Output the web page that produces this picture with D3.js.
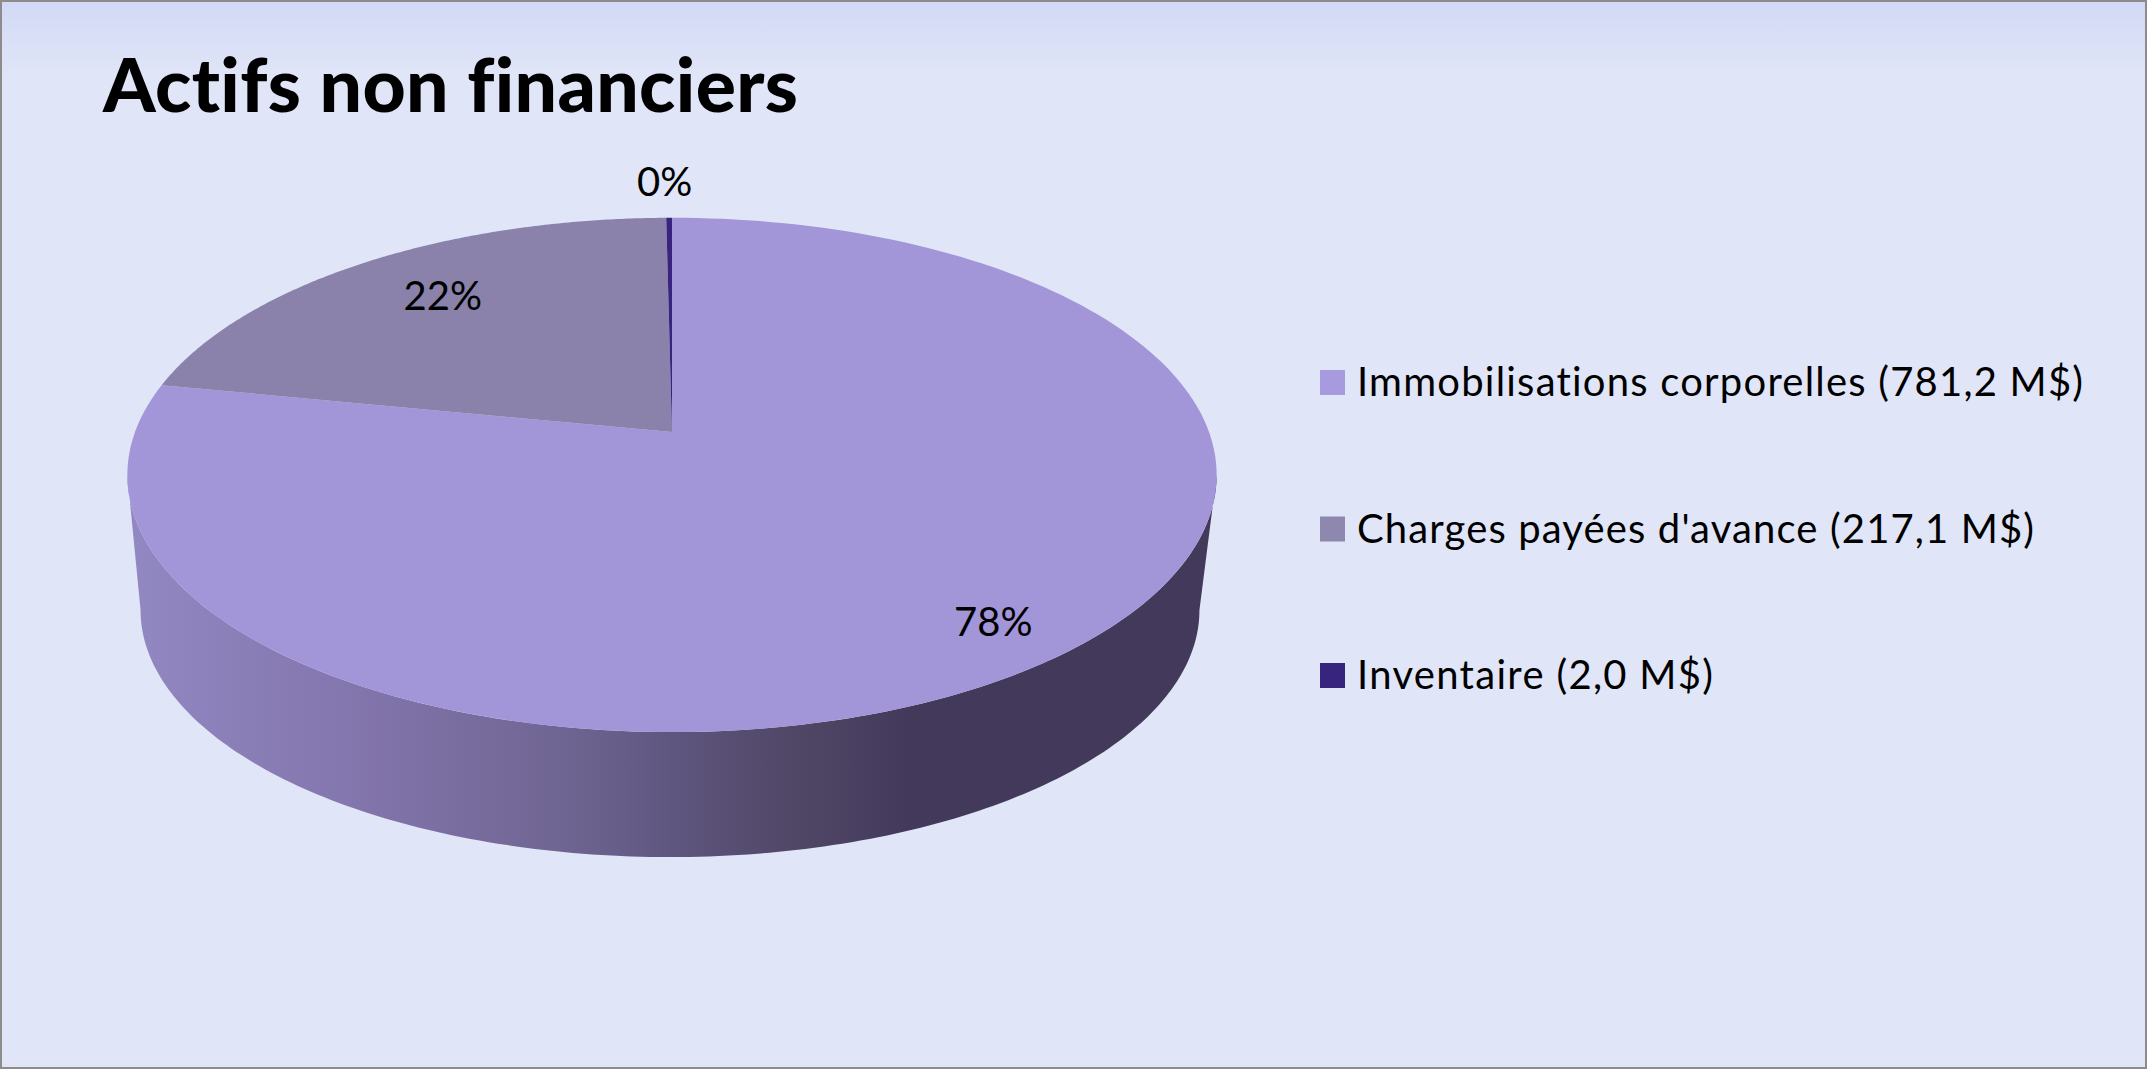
<!DOCTYPE html>
<html>
<head>
<meta charset="utf-8">
<script src="https://cdn.jsdelivr.net/npm/d3@7"></script>
<style>
  html, body { margin: 0; padding: 0; background: #e0e5f7; }
  svg { display: block; }
  text { font-family: Lato, "Open Sans", sans-serif; fill: #000; font-variant-ligatures: none; }
</style>
</head>
<body>
<div id="wrapper"></div>
<script>
const title = "Actifs non financiers";
const categories = ["Immobilisations corporelles", "Charges payées d'avance", "Inventaire"];
const values = [781.2, 217.1, 2.0];
const valueLabels = ["781,2 M$", "217,1 M$", "2,0 M$"];
const percentLabels = ["78%", "22%", "0%"];
const topColors = ["#a295d8", "#8a82aa", "#38247f"];
const legendColors = ["#a79ade", "#8e87ae", "#37247f"];

//set dimensions
const dimensions = { width: 2147, height: 1069 };

// perspective of the disc: a, b are the half axes in the plane, k the foreshortening
const topDisc = { cx: 672, cy: 432, a: 537, b: 250, k: 0.167 };
const bottomDisc = { cx: 670, cy: 569, a: 522, b: 240, k: 0.167 };

const project = (disc, angle, r = 1) => {
    const u = r * Math.sin(angle);
    const v = -r * Math.cos(angle);
    const w = 1 - disc.k * v;
    return [disc.cx + disc.a * u / w, disc.cy + disc.b * v / w];
};

const steps = 180;
const arcPoints = (disc, a0, a1) => d3.range(steps + 1)
    .map(i => project(disc, a0 + (a1 - a0) * i / steps));

const svg = d3.select("#wrapper").append("svg")
    .attr("width", dimensions.width)
    .attr("height", dimensions.height);

const defs = svg.append("defs");

const bgGradient = defs.append("linearGradient")
    .attr("id", "bg-gradient")
    .attr("x1", 0).attr("x2", 0).attr("y1", 0).attr("y2", 1);
bgGradient.selectAll("stop")
    .data([
        { offset: "0%", color: "#d2d9f5" },
        { offset: "7%", color: "#e0e5f7" },
        { offset: "100%", color: "#e0e5f7" },
    ])
    .join("stop")
    .attr("offset", d => d.offset)
    .attr("stop-color", d => d.color);

const wallGradient = defs.append("linearGradient")
    .attr("id", "wall-gradient")
    .attr("gradientUnits", "userSpaceOnUse")
    .attr("x1", 128).attr("x2", 1217).attr("y1", 0).attr("y2", 0);
wallGradient.selectAll("stop")
    .data([
        { offset: "0%", color: "#9288c2" },
        { offset: "20%", color: "#8476ae" },
        { offset: "40%", color: "#6f6592" },
        { offset: "50%", color: "#5f5680" },
        { offset: "60%", color: "#524868" },
        { offset: "72%", color: "#433a5b" },
        { offset: "100%", color: "#433a5b" },
    ])
    .join("stop")
    .attr("offset", d => d.offset)
    .attr("stop-color", d => d.color);

// background
svg.append("rect")
    .attr("x", 1).attr("y", 1)
    .attr("width", dimensions.width - 2)
    .attr("height", dimensions.height - 2)
    .attr("fill", "url(#bg-gradient)")
    .attr("stroke", "#8c8c8c")
    .attr("stroke-width", 2);

svg.append("text")
    .attr("x", 103)
    .attr("y", 112)
    .attr("font-size", 75)
    .attr("font-weight", 900)
    .attr("textLength", 695)
    .attr("lengthAdjust", "spacing")
    .text(title);

// slices
const pie = d3.pie().sort(null);
const arcs = pie(values);

const line = d3.line();

// side wall, runs between the two points where the rim turns away
const turnRight = Math.acos(-topDisc.k);
const turnLeft = 2 * Math.PI - turnRight;
const wallPoints = [
    ...arcPoints(topDisc, turnRight, turnLeft),
    ...arcPoints(bottomDisc, turnLeft, turnRight),
];
svg.append("path")
    .attr("d", line(wallPoints) + "Z")
    .attr("fill", "url(#wall-gradient)");

const bounds = svg.append("g");
bounds.selectAll("path")
    .data(arcs)
    .join("path")
    .attr("d", d => line([
        project(topDisc, 0, 0),
        ...arcPoints(topDisc, d.startAngle, d.endAngle),
    ]) + "Z")
    .attr("fill", (d, i) => topColors[i]);

// percent labels, placed along the radius of each slice
const labelRadius = [0.84, 0.74, 1.2];
const labelShift = [[0, 8], [3, -7], [-4, 0]];
svg.append("g")
    .selectAll("text")
    .data(arcs)
    .join("text")
    .attr("transform", (d, i) => {
        const [x, y] = project(topDisc, (d.startAngle + d.endAngle) / 2, labelRadius[i]);
        return `translate(${x + labelShift[i][0]},${y + labelShift[i][1]})`;
    })
    .attr("text-anchor", "middle")
    .attr("dy", "0.36em")
    .attr("font-size", 40)
    .text((d, i) => percentLabels[i]);

// legend
const legendY = d3.scalePoint()
    .domain(categories)
    .range([383, 676]);
const legendWidths = [726, 677, 356];
const legend = svg.append("g")
    .selectAll("g")
    .data(categories)
    .join("g")
    .attr("transform", d => `translate(1320,${legendY(d)})`);
legend.append("rect")
    .attr("y", -13)
    .attr("width", 25)
    .attr("height", 25)
    .attr("fill", (d, i) => legendColors[i]);
legend.append("text")
    .attr("x", 37)
    .attr("y", 13)
    .attr("font-size", 40)
    .attr("textLength", (d, i) => legendWidths[i])
    .attr("lengthAdjust", "spacing")
    .text((d, i) => `${d} (${valueLabels[i]})`);
</script>
</body>
</html>
